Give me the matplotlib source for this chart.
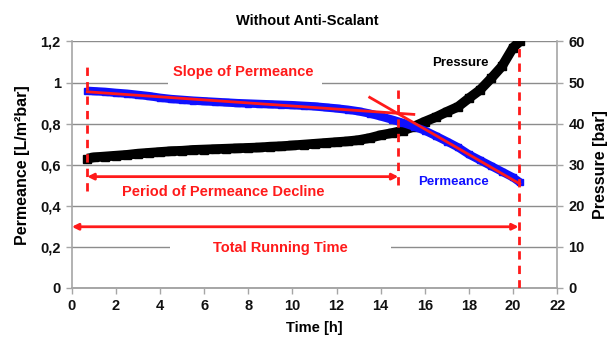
import matplotlib
matplotlib.use("Agg")
import matplotlib.pyplot as plt
from matplotlib.patches import Rectangle

plt.rcParams['font.family'] = ['Liberation Sans', 'DejaVu Sans']
plt.rcParams['font.weight'] = 'bold'

# Time axis [h]
time_h = [0.7, 1.0, 1.5, 2.0, 2.5, 3.0, 3.5, 4.0, 4.5, 5.0, 5.5, 6.0, 6.5, 7.0,
          7.5, 8.0, 8.5, 9.0, 9.5, 10.0, 10.5, 11.0, 11.5, 12.0, 12.5, 13.0,
          13.5, 14.0, 14.5, 15.0, 15.5, 16.0, 16.5, 17.0, 17.5, 18.0, 18.5,
          19.0, 19.5, 20.0, 20.3]

# Permeance [L/m²bar]
permeance = [0.960, 0.958, 0.955, 0.950, 0.946, 0.940, 0.934, 0.926, 0.920,
             0.916, 0.912, 0.909, 0.906, 0.903, 0.900, 0.898, 0.896, 0.894,
             0.892, 0.890, 0.887, 0.884, 0.879, 0.874, 0.868, 0.860, 0.849,
             0.835, 0.820, 0.804, 0.786, 0.766, 0.740, 0.713, 0.685, 0.650,
             0.622, 0.594, 0.566, 0.538, 0.515]

# Feed pressure [bar]
pressure = [31.5, 31.8, 32.0, 32.2, 32.4, 32.7, 32.9, 33.1, 33.3, 33.4, 33.6,
            33.7, 33.8, 33.9, 34.0, 34.1, 34.2, 34.4, 34.5, 34.7, 34.9, 35.1,
            35.3, 35.5, 35.7, 36.0, 36.5, 37.2, 37.7, 38.3, 39.3, 40.5, 41.6,
            42.9, 44.1, 46.2, 48.2, 51.0, 54.0, 58.5, 60.0]

# Fitted slopes of permeance: (times, values)
slope_initial = [(0.7, 15.5), (0.955, 0.845)]
slope_decline = [(13.5, 20.3), (0.928, 0.507)]

# Time marks [h]
t_start, t_decline, t_end = 0.7, 14.8, 20.25

x_ticks = [0, 2, 4, 6, 8, 10, 12, 14, 16, 18, 20, 22]
perm_ticks = [0, 0.2, 0.4, 0.6, 0.8, 1.0, 1.2]
perm_tick_labels = ["0", "0,2", "0,4", "0,6", "0,8", "1", "1,2"]
pres_ticks = [0, 10, 20, 30, 40, 50, 60]

RED = "#ff1a1a"
BLUE = "#1010ff"
GRID = "#8c8c8c"
SPINE = "#a6a6a6"

fig = plt.figure(figsize=(6.09, 3.40), dpi=100)
ax = fig.add_axes([0.118, 0.153, 0.797, 0.725])
ax2 = ax.twinx()
ax.set_zorder(2)
ax2.set_zorder(1)
ax.patch.set_visible(False)

ax.set_xlim(0, 22)
ax.set_ylim(0, 1.2)
ax2.set_ylim(0, 60)

# grid on the lower axes
ax2.set_xticks(x_ticks)
ax2.set_yticks(pres_ticks)
ax2.grid(True, color=GRID, lw=1.0)
ax2.set_axisbelow(True)

# pressure band
ax2.plot(time_h, pressure, color="black", lw=7.0, solid_capstyle="butt",
         marker="s", ms=6, zorder=3)

# permeance band
ax.plot(time_h, permeance, color=BLUE, lw=6.0, solid_capstyle="butt",
        marker="s", ms=4.5, zorder=3)

# slope lines
ax.plot(slope_initial[0], slope_initial[1], color=RED, lw=2.0, zorder=5)
ax.plot(slope_decline[0], slope_decline[1], color=RED, lw=2.0, zorder=5)

# time markers
dash = dict(color=RED, lw=2.0, ls=(0, (3, 2.2)), zorder=5)
ax.plot([t_start, t_start], [0.47, 1.075], **dash)
ax.plot([t_decline, t_decline], [0.50, 0.983], **dash)
ax.plot([t_end, t_end], [0.0, 1.17], **dash)

# arrows
ax.annotate("", xy=(t_start, 0.542), xytext=(t_decline, 0.542),
            arrowprops=dict(arrowstyle="<|-|>", color=RED, lw=2.0,
                            mutation_scale=9, shrinkA=0, shrinkB=0), zorder=5)
ax.annotate("", xy=(0.0, 0.298), xytext=(t_end, 0.298),
            arrowprops=dict(arrowstyle="<|-|>", color=RED, lw=2.0,
                            mutation_scale=9, shrinkA=0, shrinkB=0), zorder=5)

# white label boxes covering the grid
ax.add_patch(Rectangle((4.35, 0.985), 6.99, 0.12, facecolor="white",
                       edgecolor="none", zorder=1))
ax.add_patch(Rectangle((4.45, 0.127), 10.0, 0.121, facecolor="white",
                       edgecolor="none", zorder=1))

ax.text(7.78, 1.052, "Slope of Permeance", color=RED, fontsize=10.5,
        ha="center", va="center", zorder=6)
ax.text(6.85, 0.467, "Period of Permeance Decline", color=RED, fontsize=10.5,
        ha="center", va="center", zorder=6)
ax.text(9.46, 0.195, "Total Running Time", color=RED, fontsize=10.5,
        ha="center", va="center", zorder=6)
ax.text(17.6, 1.095, "Pressure", color="black", fontsize=9.5,
        ha="center", va="center", zorder=6,
        bbox=dict(facecolor="white", edgecolor="none", pad=1))
ax.text(17.28, 0.516, "Permeance", color=BLUE, fontsize=9.5,
        ha="center", va="center", zorder=6,
        bbox=dict(facecolor="white", edgecolor="none", pad=1))

# axes styling
ax.set_xticks(x_ticks)
ax.set_yticks(perm_ticks)
ax.set_yticklabels(perm_tick_labels)
ax2.set_yticks(pres_ticks)
for a in (ax, ax2):
    for s in a.spines.values():
        s.set_color(SPINE)
        s.set_linewidth(1.2)
    a.spines["top"].set_visible(False)
ax.spines["right"].set_visible(False)
ax2.spines["left"].set_visible(False)
ax.tick_params(axis="both", direction="out", length=4, width=1.0,
               color=SPINE, labelsize=10.5, pad=4, labelcolor="#111111")
ax2.tick_params(axis="y", direction="out", length=4, width=1.0,
                color=SPINE, labelsize=10.5, pad=4, labelcolor="#111111")
ax2.tick_params(axis="x", length=0, labelbottom=False)
for lbl in ax.get_xticklabels() + ax.get_yticklabels() + ax2.get_yticklabels():
    lbl.set_fontweight("bold")

ax.set_xlabel("Time [h]", fontsize=10.5, fontweight="bold", labelpad=6)
ax.set_ylabel("Permeance [L/m²bar]", fontsize=11.5, fontweight="bold", labelpad=7)
ax2.set_ylabel("Pressure [bar]", fontsize=11.5, fontweight="bold", labelpad=6)
fig.suptitle("Without Anti-Scalant", x=0.505, y=0.958, fontsize=10.5,
             fontweight="bold")

fig.savefig("out.png", dpi=100)
